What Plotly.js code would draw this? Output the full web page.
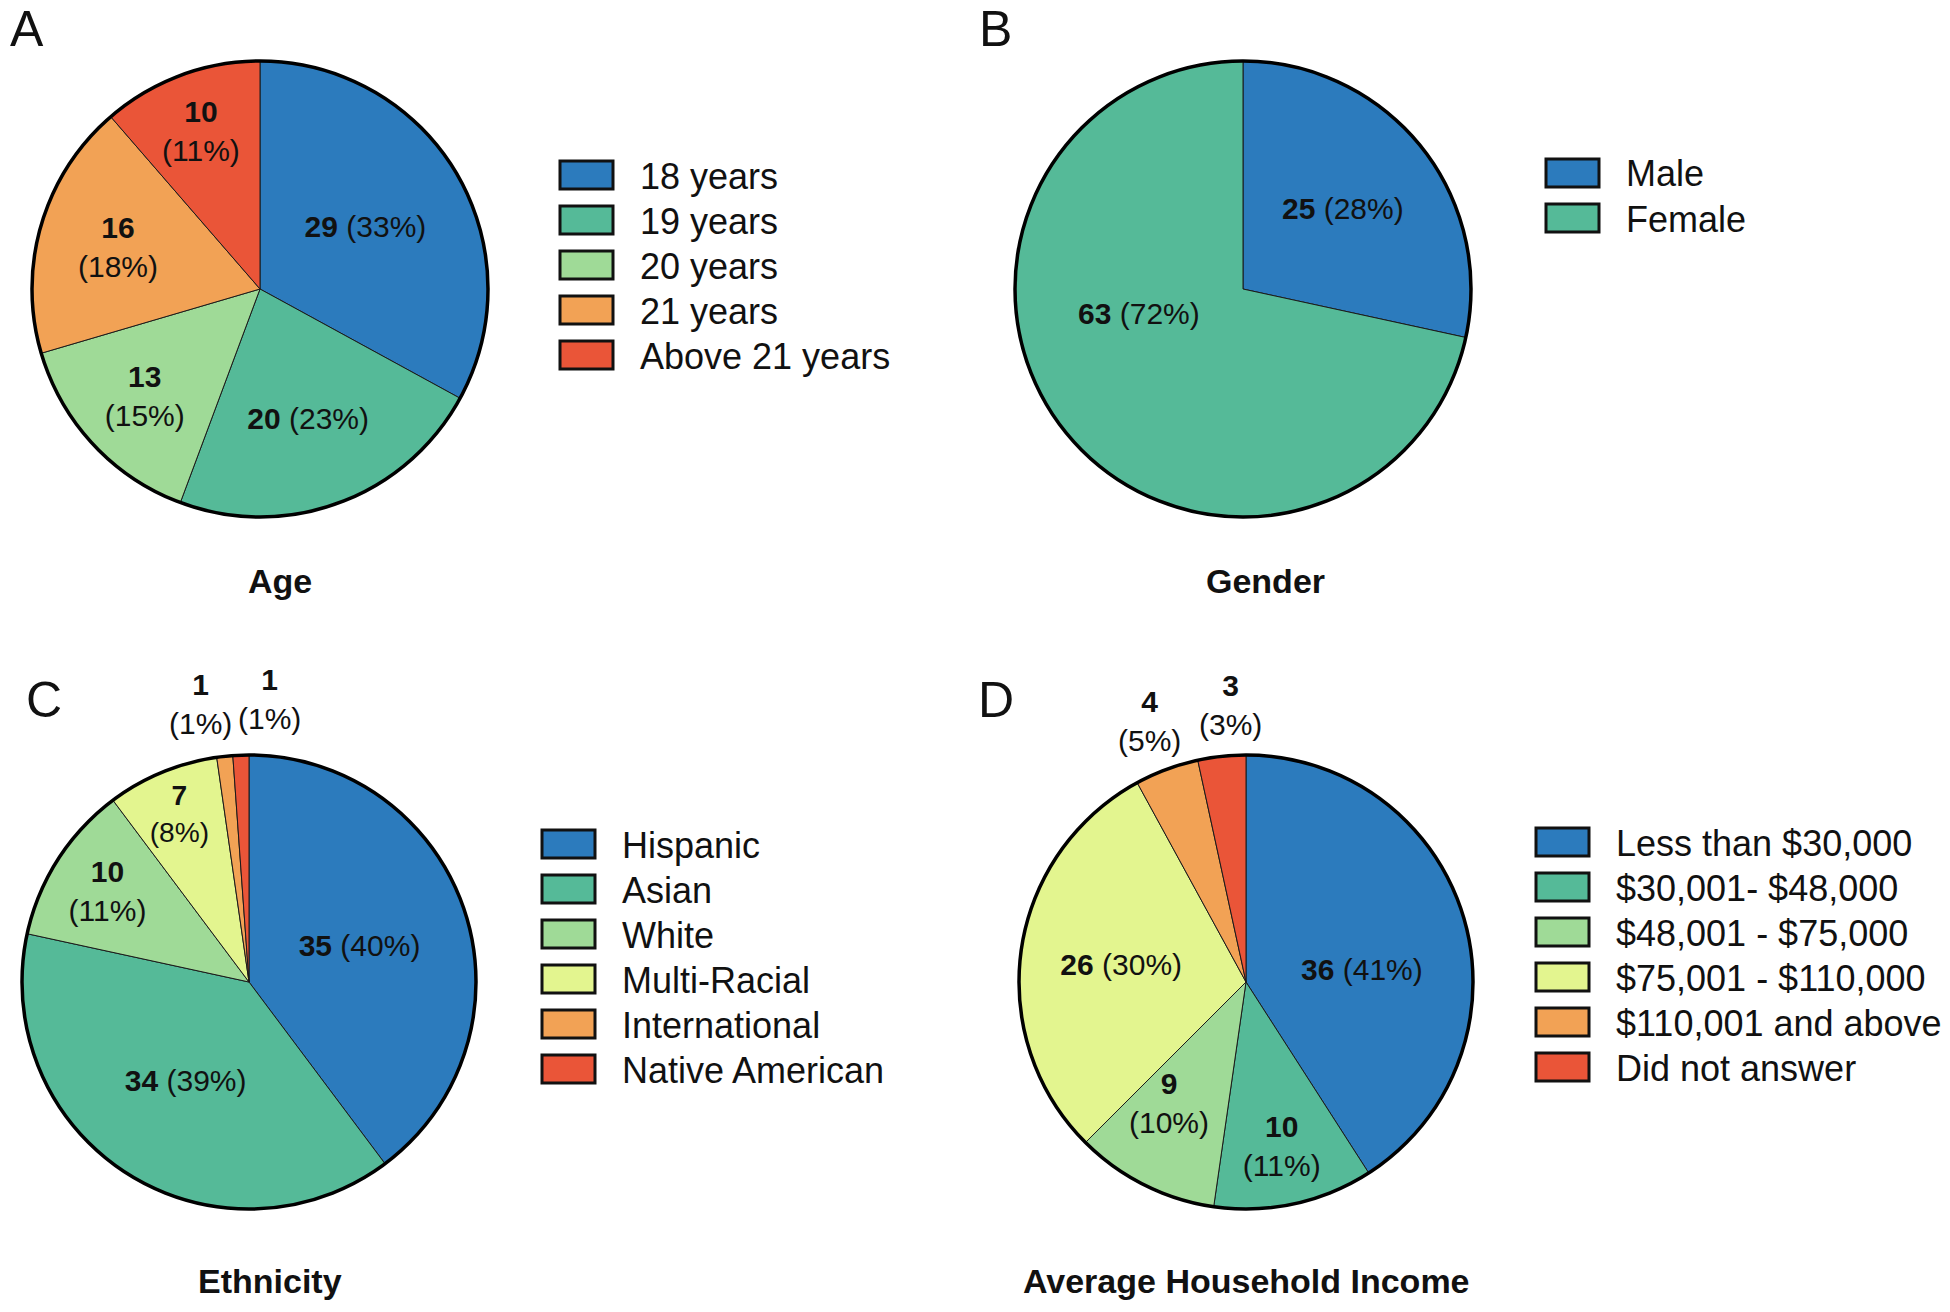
<!DOCTYPE html>
<html>
<head>
<meta charset="utf-8">
<script src="https://cdn.plot.ly/plotly-3.0.1.min.js"></script>
<style>
  body { margin: 0; background: #fff; }
  #chart { width: 1950px; height: 1312px; }
</style>
</head>
<body>
<div id="chart"></div>
<script>
var W = 1950, H = 1312;
var FONT = 'Arial, "Liberation Sans", Helvetica, sans-serif';

// ---------------- data ----------------
var ageLabels = ['18 years', '19 years', '20 years', '21 years', 'Above 21 years'];
var ageCounts = [29, 20, 13, 16, 10];

var genderLabels = ['Male', 'Female'];
var genderCounts = [25, 63];

var ethnicityLabels = ['Hispanic', 'Asian', 'White', 'Multi-Racial', 'International', 'Native American'];
var ethnicityCounts = [35, 34, 10, 7, 1, 1];

var incomeLabels = ['Less than $30,000', '$30,001- $48,000', '$48,001 - $75,000',
                    '$75,001 - $110,000', '$110,001 and above', 'Did not answer'];
var incomeCounts = [36, 10, 9, 26, 4, 3];

var panelTitles = ['Age', 'Gender', 'Ethnicity', 'Average Household Income'];
var panelLetters = ['A', 'B', 'C', 'D'];

var BLUE = '#2c7bbd', TEAL = '#55ba98', LGREEN = '#9fda97',
    YELLOW = '#e3f58f', ORANGE = '#f2a255', RED = '#ea5538';
var ageColors = [BLUE, TEAL, LGREEN, ORANGE, RED];
var genderColors = [BLUE, TEAL];
var ethnicityColors = [BLUE, TEAL, LGREEN, YELLOW, ORANGE, RED];
var incomeColors = [BLUE, TEAL, LGREEN, YELLOW, ORANGE, RED];

// ---------------- layout of each panel (pixels) ----------------
// lines: 1 = "n (p%)" on one line, 2 = count and percent on two lines
// placed: slice labels positioned by hand (thin slices, or where plotly's spot is off)
var panels = [
  { labels: ageLabels, values: ageCounts, colors: ageColors, cx: 260, cy: 289, r: 228,
    lines: [1, 1, 2, 2, 2], legX: 560, legY: 161,
    titleX: 280, titleY: 581, letterX: 8, letterY: 29, placed: {} },
  { labels: genderLabels, values: genderCounts, colors: genderColors, cx: 1243, cy: 289, r: 228,
    lines: [1, 1], legX: 1546, legY: 159,
    titleX: 1265, titleY: 581, letterX: 977, letterY: 29,
    placed: { 1: [1139, 314] } },
  { labels: ethnicityLabels, values: ethnicityCounts, colors: ethnicityColors, cx: 249, cy: 982, r: 227,
    lines: [1, 1, 2, 2, 2, 2], legX: 542, legY: 830,
    titleX: 270, titleY: 1281, letterX: 24, letterY: 700,
    placed: { 4: [200, 704], 5: [269, 699] } },
  { labels: incomeLabels, values: incomeCounts, colors: incomeColors, cx: 1246, cy: 982, r: 227,
    lines: [1, 2, 2, 1, 2, 2], legX: 1536, legY: 828,
    titleX: 1246, titleY: 1281, letterX: 976, letterY: 700,
    placed: { 0: [1362, 969], 2: [1169, 1103], 4: [1149, 721], 5: [1230, 705] } }
];

function px(x) { return x / W; }
function py(y) { return 1 - y / H; }
function sum(a) { return a.reduce(function (s, v) { return s + v; }, 0); }

var traces = [], shapes = [], annotations = [];
var labelFont = { family: FONT, size: 30, color: '#111' };

panels.forEach(function (p, i) {
  var dom = { x: [px(p.cx - p.r), px(p.cx + p.r)], y: [py(p.cy + p.r), py(p.cy - p.r)] };
  var tmpl = p.lines.map(function (n) {
    return n === 2 ? '<b>%{value}</b><br>(%{percent:.0%})' : '<b>%{value}</b> (%{percent:.0%})';
  });
  var pos = p.values.map(function (v, j) { return p.placed[j] ? 'none' : 'inside'; });

  traces.push({
    type: 'pie', labels: p.labels, values: p.values,
    sort: false, direction: 'clockwise', rotation: 0,
    marker: { colors: p.colors, line: { color: '#1a1a1a', width: 1 } },
    texttemplate: tmpl, textposition: pos, insidetextorientation: 'horizontal',
    textfont: labelFont, insidetextfont: labelFont,
    domain: dom, automargin: false, showlegend: false,
    hoverinfo: 'label+value+percent'
  });
  // thick outline round the whole pie
  traces.push({
    type: 'pie', labels: [panelTitles[i]], values: [sum(p.values)],
    sort: false, textinfo: 'none', hoverinfo: 'skip',
    marker: { colors: ['rgba(0,0,0,0)'], line: { color: '#000', width: 3.5 } },
    domain: dom, automargin: false, showlegend: false
  });

  // hand-placed slice labels
  var total = sum(p.values);
  Object.keys(p.placed).forEach(function (k) {
    var v = p.values[k], xy = p.placed[k];
    var sep = p.lines[k] === 2 ? '<br>' : ' ';
    annotations.push({
      xref: 'paper', yref: 'paper', x: px(xy[0]), y: py(xy[1]),
      xanchor: 'center', yanchor: 'middle', showarrow: false, align: 'center',
      text: '<b>' + v + '</b>' + sep + '(' + Math.round(100 * v / total) + '%)',
      font: labelFont
    });
  });

  // legend: swatch + text
  p.labels.forEach(function (lab, j) {
    var top = p.legY + j * 45;
    shapes.push({
      type: 'rect', xref: 'paper', yref: 'paper',
      x0: px(p.legX), x1: px(p.legX + 53), y0: py(top + 28), y1: py(top),
      fillcolor: p.colors[j], line: { color: '#111', width: 3 }
    });
    annotations.push({
      xref: 'paper', yref: 'paper', x: px(p.legX + 78), y: py(top + 15),
      xanchor: 'left', yanchor: 'middle', showarrow: false,
      text: lab, font: { family: FONT, size: 36, color: '#111' }
    });
  });

  // panel title and letter
  annotations.push({
    xref: 'paper', yref: 'paper', x: px(p.titleX), y: py(p.titleY),
    xanchor: 'center', yanchor: 'middle', showarrow: false,
    text: '<b>' + panelTitles[i] + '</b>', font: { family: FONT, size: 34, color: '#111' }
  });
  annotations.push({
    xref: 'paper', yref: 'paper', x: px(p.letterX), y: py(p.letterY),
    xanchor: 'left', yanchor: 'middle', showarrow: false,
    text: panelLetters[i], font: { family: FONT, size: 50, color: '#111' }
  });
});

var layout = {
  width: W, height: H,
  margin: { l: 0, r: 0, t: 0, b: 0 },
  paper_bgcolor: '#fff', plot_bgcolor: '#fff',
  showlegend: false,
  shapes: shapes,
  annotations: annotations
};

Plotly.newPlot('chart', traces, layout, { displayModeBar: false, staticPlot: true });
</script>
</body>
</html>
